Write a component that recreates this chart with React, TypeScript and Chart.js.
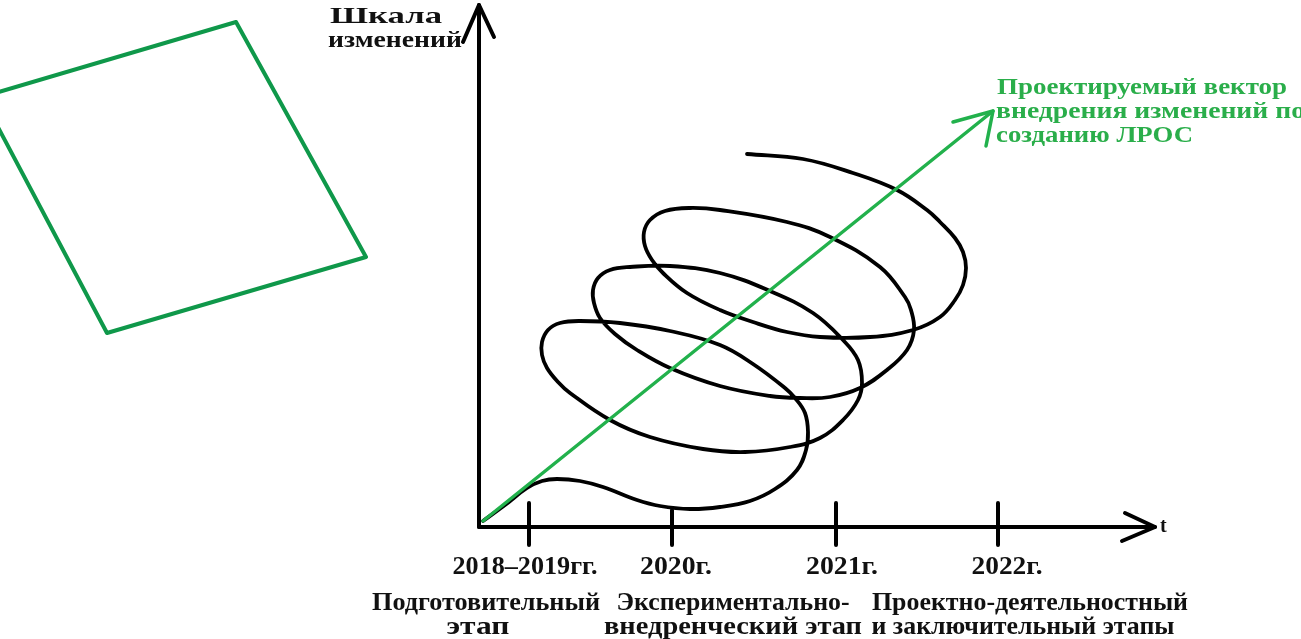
import React, { useEffect, useRef } from "react";
import { Chart, registerables } from "chart.js";

Chart.register(...registerables);

// ---- Data (in drawing units) ----
const spiralX = [483, 505, 527, 542, 557, 580, 603, 637, 660, 690, 720, 750, 775, 797, 806, 808, 805, 795, 785, 753, 720, 670, 620, 580, 560, 548, 542, 542, 547, 558, 570, 610, 650, 703, 745, 790, 820, 843, 858, 862, 858, 843, 813, 770, 720, 670, 630, 610, 598, 593, 594, 600, 615, 637, 670, 720, 770, 800, 830, 860, 887, 907, 914, 911, 905, 880, 830, 787, 720, 690, 665, 650, 644, 645, 652, 663, 687, 720, 753, 787, 820, 870, 913, 940, 955, 963, 966, 963, 955, 940, 927, 897, 853, 803, 747];
const spiralY = [521, 505, 488, 481, 479, 481, 487, 500, 506, 509, 507, 501, 489, 470, 450, 432, 413, 398, 388, 364, 345, 331, 323, 321, 323, 330, 342, 355, 368, 382, 393, 420, 437, 449, 452, 447, 438, 420, 400, 383, 360, 340, 313, 291, 273, 266, 267, 270, 278, 290, 303, 318, 334, 350, 368, 386, 396, 398, 397, 388, 370, 350, 330, 310, 297, 267, 237, 222, 210, 208, 211, 220, 232, 246, 260, 273, 293, 310, 322, 332, 337, 337, 330, 317, 300, 285, 268, 252, 238, 222, 210, 190, 173, 159, 154];

const vectorX = [483, 993];
const vectorY = [521, 111];
const vectorHeadX = [953, 993, 986];
const vectorHeadY = [122, 111, 146];

const squareX = [236, 366, 107, -18, 236];
const squareY = [22, 257, 333, 97, 22];

const yAxisX = [479, 479];
const yAxisY = [527, 5];
const yHeadX = [463, 479, 494];
const yHeadY = [42, 5, 37];

const xAxisX = [479, 1155];
const xAxisY = [527, 527];
const xHeadX = [1125, 1155, 1122];
const xHeadY = [513, 527, 541];

const tickPositions = [529, 672, 836, 998];
const tickTops = [503, 510, 503, 503];
const tickBottom = 545;

const tickLabels = ["2018–2019гг.", "2020г.", "2021г.", "2022г."];
const tickLabelCenters = [525, 676, 842, 1007];
const tickLabelWidths = [145, 72, 72, 71];
const tickLabelY = 568;

const stageLines = [
  "Подготовительный", "этап",
  "Экспериментально-", "внедренческий этап",
  "Проектно-деятельностный", "и заключительный этапы",
];
const stageCenters = [486, 478, 733, 733, 1030, 1023];
const stageWidths = [228, 63, 233, 258, 316, 303];
const stageYs = [604, 628, 604, 628, 604, 628];

const yTitleLines = ["Шкала", "изменений"];
const yTitleLefts = [330, 328];
const yTitleWidths = [112, 134];
const yTitleYs = [17, 41];

const vectorLabelLines = ["Проектируемый вектор", "внедрения изменений по", "созданию ЛРОС"];
const vectorLabelLefts = [997, 996, 996];
const vectorLabelWidths = [290, 309, 197];
const vectorLabelYs = [88, 112, 136];

const tLabel = "t";

// ---- helpers ----
const pts = (xs: number[], ys: number[]) => xs.map((x, i) => ({ x, y: ys[i] }));

type TextItem = {
  text: string;
  x: number;
  y: number;
  width?: number;
  align: "left" | "center";
  size: number;
  color: string;
};

const BLACK = "#000000";
const GREEN = "#22b14c";
const SQUARE_GREEN = "#0f984a";
const TEXT_GREEN = "#2aae4a";
const TEXT_DARK = "#111111";

function buildTexts(): TextItem[] {
  const items: TextItem[] = [];
  yTitleLines.forEach((t, i) =>
    items.push({ text: t, x: yTitleLefts[i], y: yTitleYs[i], width: yTitleWidths[i], align: "left", size: 23, color: TEXT_DARK })
  );
  vectorLabelLines.forEach((t, i) =>
    items.push({ text: t, x: vectorLabelLefts[i], y: vectorLabelYs[i], width: vectorLabelWidths[i], align: "left", size: 23, color: TEXT_GREEN })
  );
  tickLabels.forEach((t, i) =>
    items.push({ text: t, x: tickLabelCenters[i], y: tickLabelY, width: tickLabelWidths[i], align: "center", size: 25, color: TEXT_DARK })
  );
  stageLines.forEach((t, i) =>
    items.push({ text: t, x: stageCenters[i], y: stageYs[i], width: stageWidths[i], align: "center", size: 25, color: TEXT_DARK })
  );
  items.push({ text: tLabel, x: 1160, y: 527, align: "left", size: 20, color: TEXT_DARK });
  return items;
}

const textPlugin = {
  id: "diagramText",
  afterDatasetsDraw(chart: any) {
    const ctx: CanvasRenderingContext2D = chart.ctx;
    const xs = chart.scales.x;
    const ys = chart.scales.y;
    buildTexts().forEach((it) => {
      ctx.save();
      ctx.font = `bold ${it.size}px "Liberation Serif", "Times New Roman", serif`;
      ctx.fillStyle = it.color;
      ctx.textBaseline = "middle";
      ctx.textAlign = "left";
      const w = ctx.measureText(it.text).width;
      const target = it.width ? xs.getPixelForValue(it.width) - xs.getPixelForValue(0) : w;
      const sx = target / w;
      const px = xs.getPixelForValue(it.x);
      const py = ys.getPixelForValue(it.y);
      const left = it.align === "center" ? px - target / 2 : px;
      ctx.translate(left, py);
      ctx.scale(sx, 1);
      ctx.fillText(it.text, 0, 0);
      ctx.restore();
    });
  },
};

function lineSet(data: { x: number; y: number }[], color: string, width: number, tension = 0) {
  return {
    data,
    showLine: true,
    borderColor: color,
    backgroundColor: color,
    borderWidth: width,
    pointRadius: 0,
    tension,
    fill: false,
    clip: false as any,
    borderCapStyle: "round" as const,
    borderJoinStyle: "round" as const,
  };
}

export default function App() {
  const canvasRef = useRef<HTMLCanvasElement | null>(null);

  useEffect(() => {
    if (!canvasRef.current) return;
    const tickSets = tickPositions.map((tx, i) =>
      lineSet(pts([tx, tx], [tickTops[i], tickBottom]), BLACK, 4)
    );
    const chart = new Chart(canvasRef.current, {
      type: "scatter",
      data: {
        datasets: [
          lineSet(pts(vectorX, vectorY), GREEN, 3.5),
          lineSet(pts(vectorHeadX, vectorHeadY), GREEN, 3.5),
          lineSet(pts(spiralX, spiralY), BLACK, 3.8, 0.4),
          lineSet(pts(yAxisX, yAxisY), BLACK, 4),
          lineSet(pts(yHeadX, yHeadY), BLACK, 4),
          lineSet(pts(xAxisX, xAxisY), BLACK, 4),
          lineSet(pts(xHeadX, xHeadY), BLACK, 4),
          ...tickSets,
          lineSet(pts(squareX, squareY), SQUARE_GREEN, 4),
        ] as any,
      },
      options: {
        animation: false,
        responsive: false,
        events: [],
        layout: { padding: 0 },
        plugins: { legend: { display: false }, tooltip: { enabled: false } },
        scales: {
          x: { type: "linear", min: 0, max: 1301, display: false },
          y: { type: "linear", min: 0, max: 639, reverse: true, display: false },
        },
      },
      plugins: [textPlugin],
    });
    return () => chart.destroy();
  }, []);

  return (
    <div style={{ position: "absolute", left: 0, top: 0, width: 1301, height: 639, background: "#ffffff" }}>
      <canvas ref={canvasRef} width={1301} height={639} style={{ display: "block" }} />
    </div>
  );
}
